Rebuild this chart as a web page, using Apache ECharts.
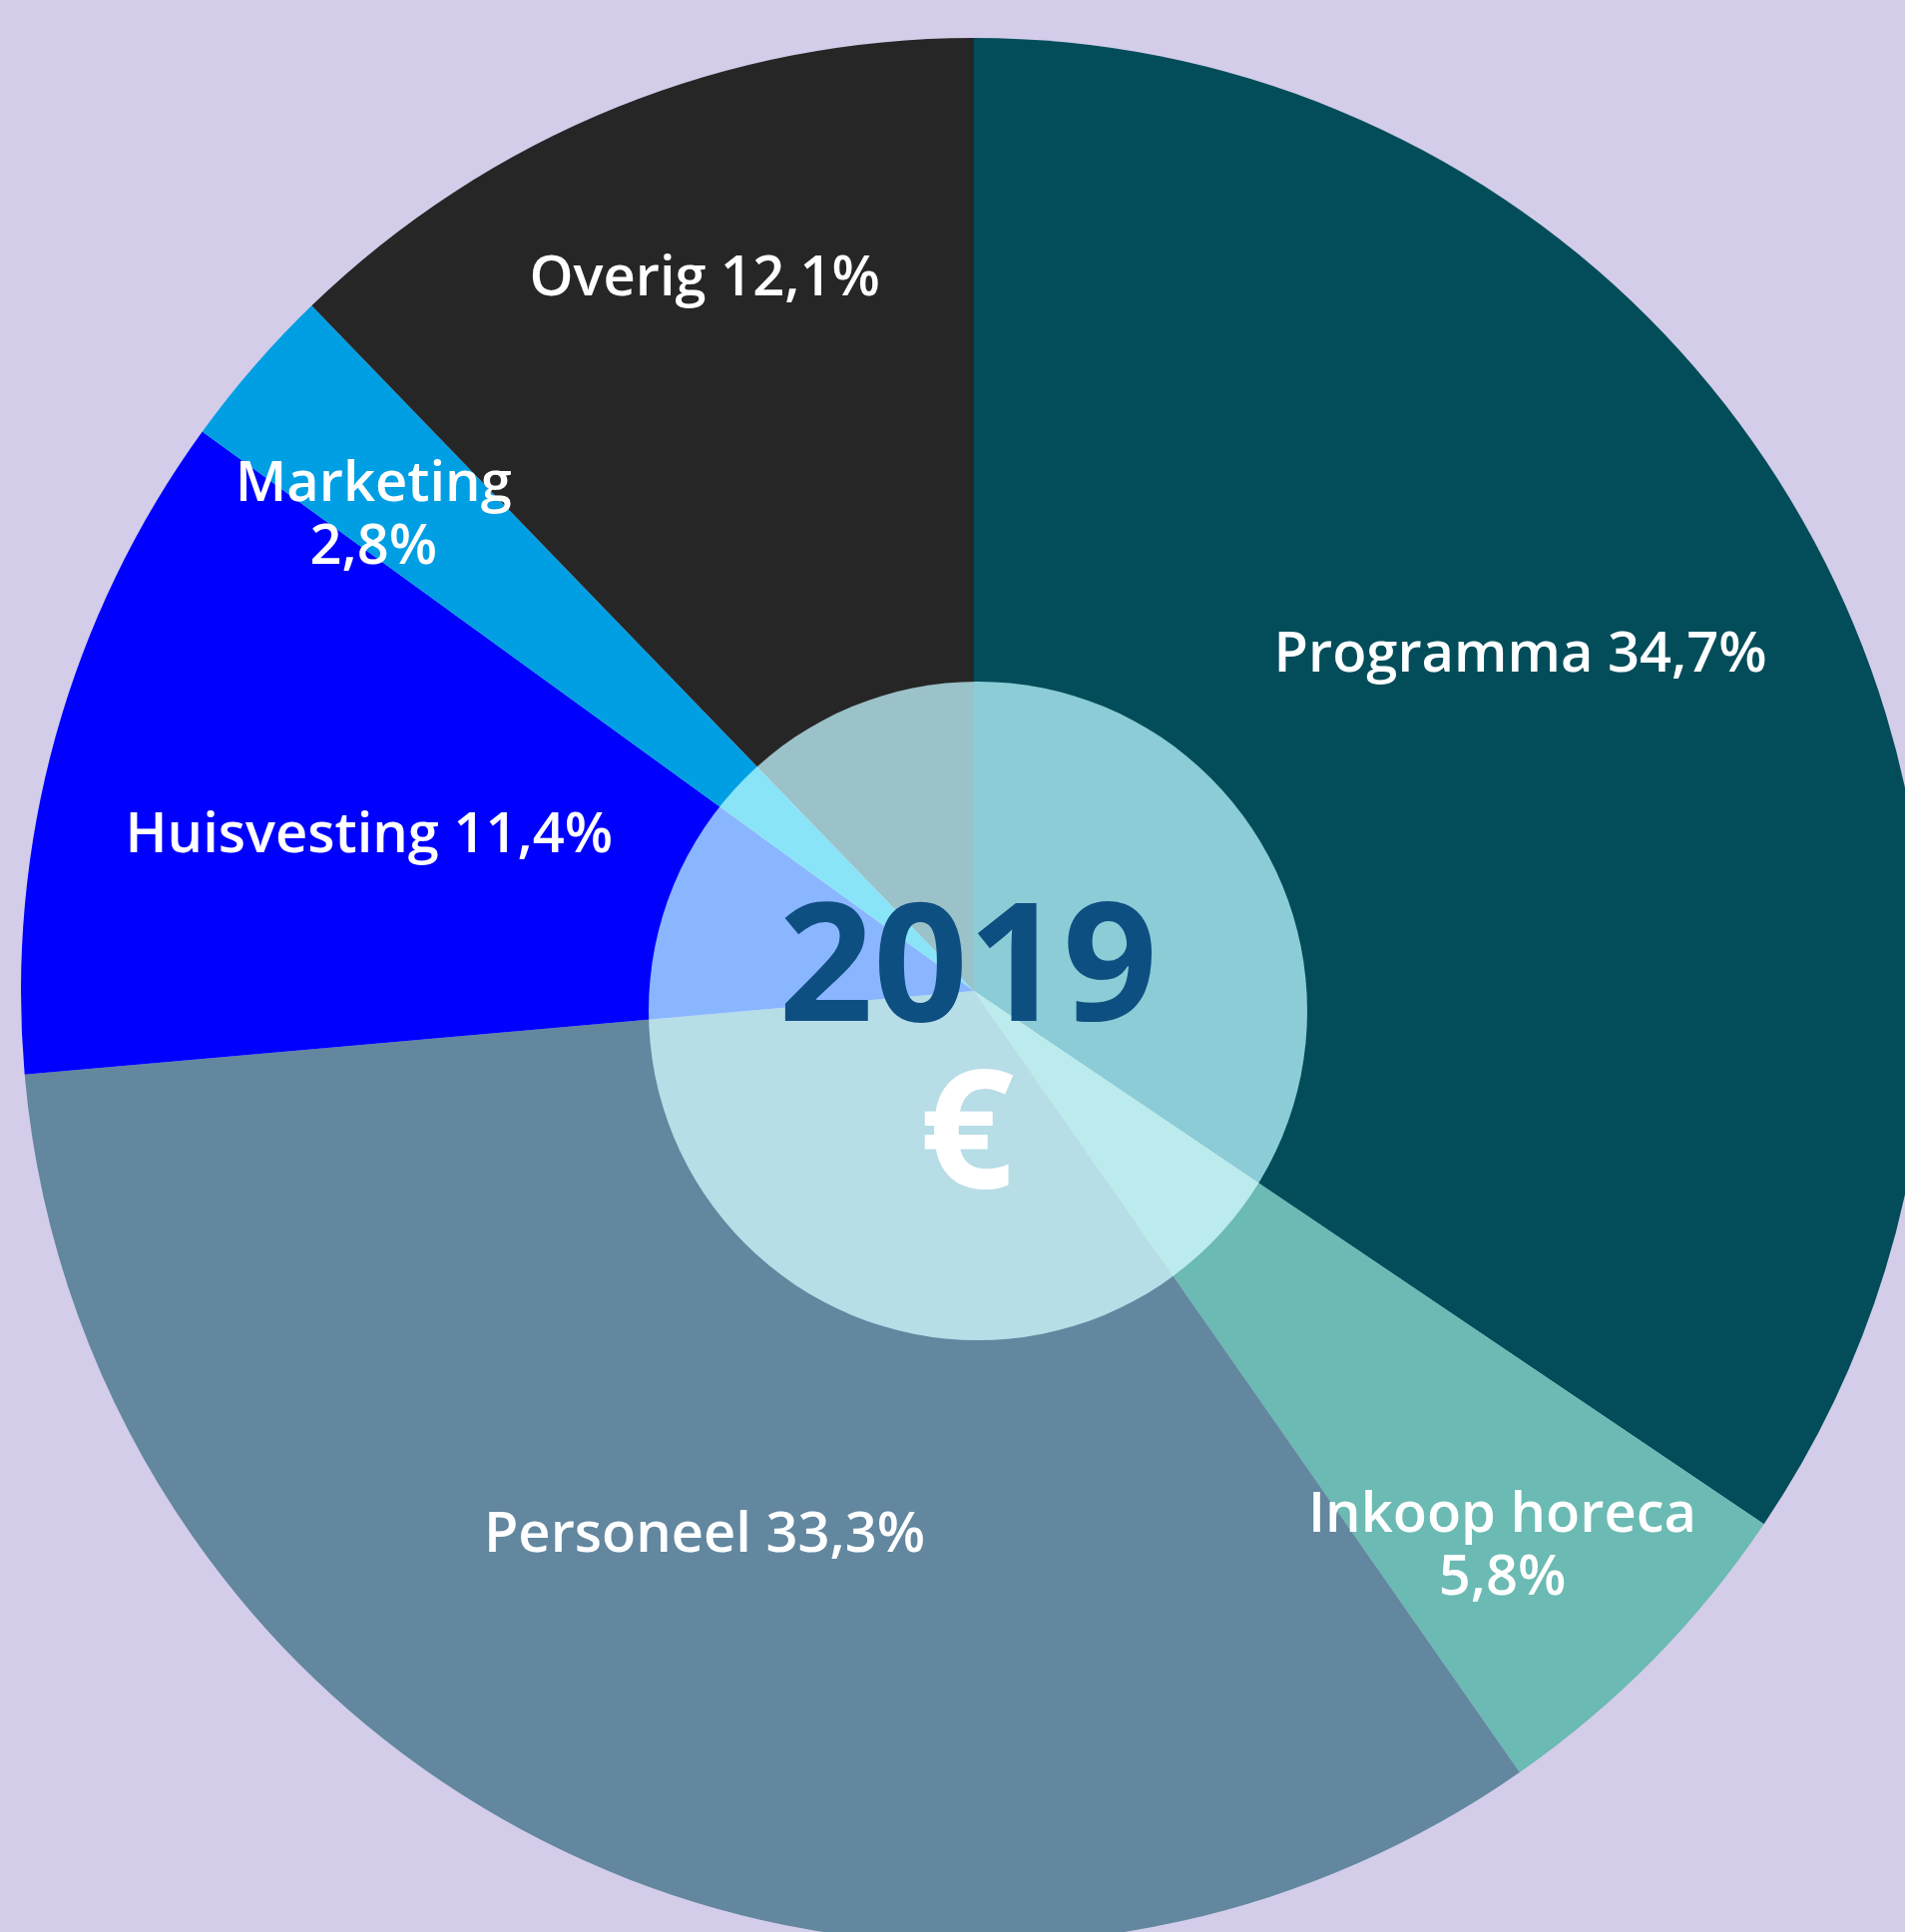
<!DOCTYPE html>
<html>
<head>
<meta charset="utf-8">
<title>Kosten 2019</title>
<script src="https://cdn.jsdelivr.net/npm/echarts@6/dist/echarts.min.js"></script>
<style>
  html, body { margin: 0; padding: 0; background: #d3cdea; }
  #chart { width: 1909px; height: 1936px; }
</style>
</head>
<body>
<div id="chart"></div>
<script>
  const categories = ['Programma', 'Inkoop horeca', 'Personeel', 'Huisvesting', 'Marketing', 'Overig']
  // sector sizes as measured from the slice angles in the picture
  const sliceShares = [34.45, 5.85, 33.31, 11.38, 2.79, 12.23]
  // percentages as printed in the labels
  const printedShares = ['34,7%', '5,8%', '33,3%', '11,4%', '2,8%', '12,1%']
  const wrapped = ['Inkoop horeca', 'Marketing'] // naam en percentage op twee regels
  const yearText = '2019'

  const colors = ['#034d5a', '#6bbab3', '#62879f', '#0000ff', '#009fe3', '#262626']
  const pieCenter = [976, 993]
  const pieRadius = 955
  // label anker: [straal px, hoek in graden met de klok mee vanaf 12 uur]
  const labelPolar = [[645, 58.1], [765, 136.2], [605, 206.5], [627, 284.8], [770, 308.6], [767, 339.4]]

  const chart = echarts.init(document.getElementById('chart'))

  const option = {
    backgroundColor: '#d3cdea',
    animation: false,
    series: [
      {
        type: 'pie',
        center: pieCenter,
        radius: [0, pieRadius],
        startAngle: 90,
        clockwise: true,
        silent: true,
        itemStyle: { borderWidth: 0 },
        label: {
          show: true,
          position: 'inside',
          color: '#ffffff',
          fontFamily: 'Open Sans',
          fontWeight: 600,
          fontSize: 56,
          lineHeight: 63,
          align: 'center',
          formatter: (p) => {
            const pct = printedShares[p.dataIndex]
            return p.name + (wrapped.includes(p.name) ? '\n' : ' ') + pct
          },
        },
        labelLine: { show: false },
        labelLayout: (params) => {
          const lp = labelPolar[params.dataIndex]
          const a = (lp[1] * Math.PI) / 180
          return {
            x: pieCenter[0] + lp[0] * Math.sin(a),
            y: pieCenter[1] - lp[0] * Math.cos(a) + 5,
            align: 'center',
            verticalAlign: 'middle',
          }
        },
        data: categories.map((name, i) => ({
          name: name,
          value: sliceShares[i],
          itemStyle: { color: colors[i] },
        })),
      },
    ],
    graphic: [
      {
        type: 'circle',
        z: 100,
        silent: true,
        shape: { cx: 980, cy: 1013, r: 330 },
        style: { fill: '#8ab6bf', blend: 'screen' },
      },
      {
        type: 'text',
        z: 101,
        silent: true,
        x: 970,
        y: 976,
        style: {
          text: yearText,
          fill: '#0e4f82',
          fontFamily: 'Open Sans',
          fontWeight: 'bold',
          fontSize: 166,
          align: 'center',
          verticalAlign: 'middle',
        },
      },
      {
        type: 'text',
        z: 101,
        silent: true,
        x: 969,
        y: 1143,
        style: {
          text: '€',
          fill: '#ffffff',
          fontFamily: 'Open Sans',
          fontWeight: 'bold',
          fontSize: 166,
          align: 'center',
          verticalAlign: 'middle',
        },
      },
    ],
  }

  chart.setOption(option)
</script>
</body>
</html>
